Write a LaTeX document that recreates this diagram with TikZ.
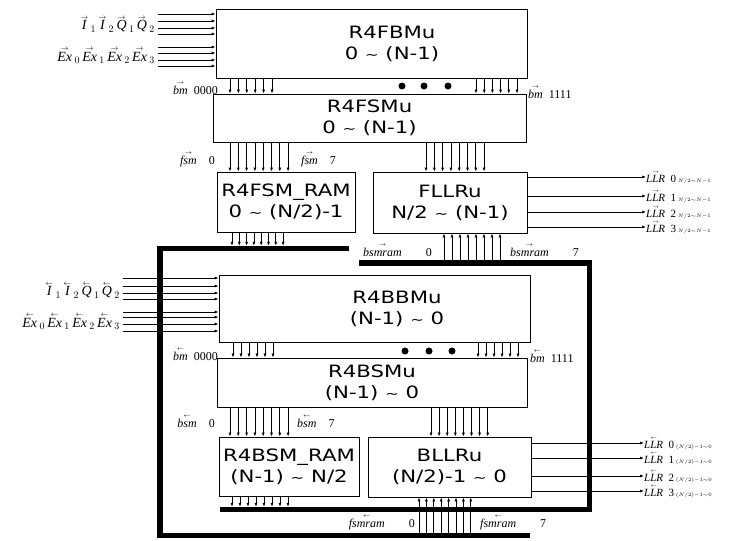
\documentclass[tikz,border=0pt]{standalone}
\usepackage{amsmath}
\usepackage{graphicx}
\usepackage{fontspec}
\setmainfont{Liberation Serif}
\newfontfamily\boxfont[FakeStretch=1.25]{DejaVu Sans}
\usetikzlibrary{arrows.meta}

\newcommand{\fv}[1]{$\overset{\raisebox{-1.2pt}[\height][0pt]{$\scriptscriptstyle\rightarrow$}}{\textit{#1}}$}
\newcommand{\bv}[1]{$\overset{\raisebox{-1.2pt}[\height][0pt]{$\scriptscriptstyle\leftarrow$}}{\textit{#1}}$}
\newcommand{\tld}{{\fontsize{13}{13}\selectfont\textasciitilde}}

\tikzset{
  blk/.style={draw, line width=0.8pt, inner sep=0pt, align=center,
    font=\boxfont\fontsize{17}{21}\selectfont},
  blktxt/.style={inner sep=0pt, align=center, font=\boxfont\fontsize{17}{21}\selectfont},
  sig/.style={line width=0.7pt, -{Latex[length=4pt,width=3pt]}},
  bus/.style={line width=5.5pt, line join=miter},
  inlbl/.style={inner sep=0pt, font=\fontsize{14}{16}\selectfont},
  buslbl/.style={inner sep=0pt, font=\fontsize{12}{14}\selectfont},
  outlbl/.style={inner sep=0pt, font=\fontsize{11}{13}\selectfont},
}

\begin{document}
\begin{tikzpicture}[x=1pt, y=-1pt]
    \useasboundingbox (0,0) rectangle (734,541);

    % -- forward blocks ------------------------------------------------------
    \node[blk, minimum width=311pt, minimum height=69pt] (fbm) at (371.5,43.5) {};
    \node[blktxt] (fbmtxt) at (392,43.5) {R4FBMu\\0 \tld\ (N-1)};
    \node[blk, minimum width=313pt, minimum height=48pt] (fsm) at (369.5,118) {R4FSMu\\0 \tld\ (N-1)};
    \node[blk, minimum width=138pt, minimum height=60pt] (fram) at (286,202) {R4FSM\_RAM\\0 \tld\ (N/2)-1};
    \node[blk, minimum width=154pt, minimum height=61pt] (fllr) at (450,202.5) {FLLRu\\N/2 \tld\ (N-1)};

    % -- backward blocks -----------------------------------------------------
    \node[blk, minimum width=311pt, minimum height=67pt] (bbm) at (374.5,308.5) {};
    \node[blktxt] (bbmtxt) at (397,308.5) {R4BBMu\\(N-1) \tld\ 0};
    \node[blk, minimum width=310pt, minimum height=49pt] (bsm) at (372,382.5) {R4BSMu\\(N-1) \tld\ 0};
    \node[blk, minimum width=140pt, minimum height=59pt] (bram) at (289,466.5) {R4BSM\_RAM\\(N-1) \tld\ N/2};
    \node[blk, minimum width=163pt, minimum height=60pt] (bllr) at (449.5,467) {BLLRu\\(N/2)-1 \tld\ 0};

    % -- thick buses between the RAMs and the LLR units ----------------------
    \coordinate (a1) at (349,248.5);
    \coordinate (a2) at (160,248.5);
    \coordinate (a3) at (160,535.5);
    \coordinate (a4) at (530,535.5);
    \draw[bus] (a1) -- (a2) -- (a3) -- (a4);
    \coordinate (b1) at (359,263);
    \coordinate (b2) at (589.5,263);
    \coordinate (b3) at (589.5,509.5);
    \coordinate (b4) at (220,509.5);
    \draw[bus] (b1) -- (b2) -- (b3) -- (b4);

    % -- inputs --------------------------------------------------------------
    \foreach \y [count=\k] in {14,21,28,34,47,53,60,66} {
        \coordinate (fin\k) at (158,\y);
        \draw[sig] (fin\k) -- (fin\k -| fbm.west);
    }
    \foreach \y [count=\k] in {278,286,293,299,312,317,324,331} {
        \coordinate (bin\k) at (123,\y);
        \draw[sig] (bin\k) -- (bin\k -| bbm.west);
    }
    \node[inlbl, anchor=east] (fiq) at (155,23) {\fv{I}\,$_1$\,\fv{I}\,$_2$\,\fv{Q}\,$_1$\,\fv{Q}\,$_2$};
    \node[inlbl, anchor=east] (fex) at (155,55) {\fv{Ex}\,$_0$\,\fv{Ex}\,$_1$\,\fv{Ex}\,$_2$\,\fv{Ex}\,$_3$};
    \node[inlbl, anchor=east] (biq) at (120,289) {\bv{I}\,$_1$\,\bv{I}\,$_2$\,\bv{Q}\,$_1$\,\bv{Q}\,$_2$};
    \node[inlbl, anchor=east] (bex) at (120,321) {\bv{Ex}\,$_0$\,\bv{Ex}\,$_1$\,\bv{Ex}\,$_2$\,\bv{Ex}\,$_3$};

    % -- branch metric buses (6 + 6 lines, dots between) ---------------------
    \foreach \i [evaluate=\i as \xa using 230+8.4*\i,
                 evaluate=\i as \xb using 476+8.2*\i] in {0,...,5} {
        \draw[sig] (\xa,0 |- fbm.south) -- (\xa,0 |- fsm.north);
        \draw[sig] (\xb,0 |- fbm.south) -- (\xb,0 |- fsm.north);
    }
    \foreach \i [evaluate=\i as \xa using 233+8*\i,
                 evaluate=\i as \xb using 478+8*\i] in {0,...,5} {
        \draw[sig] (\xa,0 |- bbm.south) -- (\xa,0 |- bsm.north);
        \draw[sig] (\xb,0 |- bbm.south) -- (\xb,0 |- bsm.north);
    }
    \foreach \x in {402,424,448} \fill (\x,86) circle (3.5pt);
    \foreach \x in {405,429,452} \fill (\x,351) circle (3.5pt);
    \node[buslbl, anchor=east] (fbm0) at (218,88) {\fv{bm}\enspace 0000};
    \node[buslbl, anchor=west] (fbm1) at (528,92) {\fv{bm}\enspace 1111};
    \node[buslbl, anchor=east] (bbm0) at (218,354) {\bv{bm}\enspace 0000};
    \node[buslbl, anchor=west] (bbm1) at (530,356) {\bv{bm}\enspace 1111};

    % -- state metric buses (8 lines each) -----------------------------------
    \foreach \i [evaluate=\i as \xa using 230+8.3*\i,
                 evaluate=\i as \xb using 426+8.3*\i] in {0,...,7} {
        \draw[sig] (\xa,0 |- fsm.south) -- (\xa,0 |- fram.north);
        \draw[sig] (\xb,0 |- fsm.south) -- (\xb,0 |- fllr.north);
    }
    \foreach \i [evaluate=\i as \xa using 230+8.3*\i,
                 evaluate=\i as \xb using 431+8.1*\i] in {0,...,7} {
        \draw[sig] (\xa,0 |- bsm.south) -- (\xa,0 |- bram.north);
        \draw[sig] (\xb,0 |- bsm.south) -- (\xb,0 |- bllr.north);
    }
    \node[buslbl, anchor=east] (fsm0) at (215,159) {\fv{fsm}\quad 0};
    \node[buslbl, anchor=west] (fsm7) at (301,159) {\fv{fsm}\quad 7};
    \node[buslbl, anchor=east] (bsm0) at (215,421) {\bv{bsm}\quad 0};
    \node[buslbl, anchor=west] (bsm7) at (297,421) {\bv{bsm}\quad 7};

    % -- RAM in / out --------------------------------------------------------
    \foreach \i [evaluate=\i as \xa using 232+7.3*\i,
                 evaluate=\i as \xb using 444+8*\i] in {0,...,7} {
        \draw[sig, shorten >=2.75pt] (\xa,0 |- fram.south) -- (\xa,0 |- a1);
        \draw[sig, shorten <=2.75pt] (\xb,0 |- b1) -- (\xb,0 |- fllr.south);
    }
    \foreach \i [evaluate=\i as \xa using 232+8*\i,
                 evaluate=\i as \xb using 419+7.4*\i] in {0,...,7} {
        \draw[sig, shorten >=2.75pt] (\xa,0 |- bram.south) -- (\xa,0 |- b4);
        \draw[sig, shorten <=2.75pt] (\xb,0 |- a3) -- (\xb,0 |- bllr.south);
    }
    \node[buslbl, anchor=east] (fram0) at (432,250) {\fv{bsmram}\qquad 0};
    \node[buslbl, anchor=west] (fram7) at (510,250) {\fv{bsmram}\qquad 7};
    \node[buslbl, anchor=east] (bram0) at (415,522) {\bv{fsmram}\qquad 0};
    \node[buslbl, anchor=west] (bram7) at (480,522) {\bv{fsmram}\qquad 7};

    % -- LLR outputs ---------------------------------------------------------
    \foreach \y [count=\k from 0] in {177,196,212,227} {
        \node[outlbl, anchor=west] (fllr\k) at (646,\y)
            {\fv{LLR}\enspace\k\,$\scriptscriptstyle N/2\sim N-1$};
        \draw[sig] (fllr.east |- fllr\k.west) -- (fllr\k.west);
    }
    \foreach \y [count=\k from 0] in {443,458,476,491} {
        \node[outlbl, anchor=west] (bllr\k) at (644,\y)
            {\bv{LLR}\enspace\k\,$\scriptscriptstyle (N/2)-1\sim 0$};
        \draw[sig] (bllr.east |- bllr\k.west) -- (bllr\k.west);
    }
\end{tikzpicture}
\end{document}
